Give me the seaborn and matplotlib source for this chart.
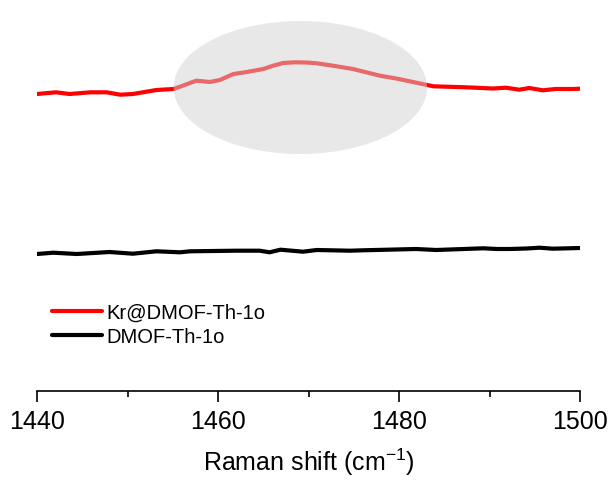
import numpy as np
import pandas as pd
import seaborn as sns
import matplotlib.pyplot as plt
from matplotlib.patches import Ellipse

# =========================================
# DATA (arbitrary intensity units)
# =========================================

kr_shift = [1440.0, 1442.1, 1443.6, 1445.9, 1447.7, 1449.2, 1450.6, 1453.2,
            1455.1, 1457.6, 1459.1, 1460.2, 1461.7, 1463.2, 1465.0, 1466.1,
            1467.2, 1468.5, 1469.8, 1470.9, 1472.7, 1474.9, 1477.9, 1479.7,
            1483.8, 1487.4, 1490.4, 1491.8, 1493.3, 1494.4, 1495.9, 1497.3,
            1499.2, 1500.0]
kr_intensity = [305.0, 306.7, 305.0, 306.7, 306.7, 304.3, 305.0, 309.0,
                310.0, 318.3, 317.0, 319.0, 325.0, 327.0, 330.0, 333.3,
                336.0, 336.7, 336.5, 335.7, 333.3, 330.0, 323.3, 320.5,
                312.7, 311.7, 310.5, 311.3, 309.3, 311.0, 308.7, 310.0,
                310.0, 310.3]

dmof_shift = [1440.0, 1441.8, 1444.4, 1448.0, 1450.6, 1453.2, 1455.8, 1456.9,
              1462.0, 1464.6, 1465.7, 1466.9, 1469.4, 1470.9, 1474.6, 1476.0,
              1481.9, 1484.1, 1489.3, 1490.8, 1492.2, 1494.1, 1495.5, 1497.0,
              1500.0]
dmof_intensity = [145.0, 146.3, 145.0, 147.0, 145.3, 147.7, 146.7, 147.7,
                  148.3, 148.3, 146.7, 149.3, 147.3, 149.0, 148.3, 148.7,
                  150.0, 149.0, 150.7, 150.0, 150.0, 150.5, 151.3, 150.3,
                  151.0]

series_labels = ["Kr@DMOF-Th-1o", "DMOF-Th-1o"]

df = pd.concat([
    pd.DataFrame({"shift": kr_shift, "intensity": kr_intensity,
                  "sample": series_labels[0]}),
    pd.DataFrame({"shift": dmof_shift, "intensity": dmof_intensity,
                  "sample": series_labels[1]}),
])

# =========================================
# PLOT
# =========================================

sns.set_style("white")
plt.rcParams['font.family'] = ['Liberation Sans', 'DejaVu Sans']
plt.rcParams['text.color'] = 'black'
plt.rcParams['axes.labelcolor'] = 'black'

fig = plt.figure(figsize=(6.11, 4.81), dpi=100)
ax = fig.add_axes([37 / 611, (481 - 392) / 481, 543 / 611, 392 / 481])

sns.lineplot(
    data=df, x="shift", y="intensity", hue="sample",
    palette={series_labels[0]: "#ff0000", series_labels[1]: "#000000"},
    linewidth=3, ax=ax, sort=False
)

# highlight of the Kr band
ax.add_patch(Ellipse((1469.1, 311.5), 28.0, 133.0,
                     facecolor="lightgray", edgecolor="none", alpha=0.5,
                     zorder=5))

ax.set_xlim(1440, 1500)
ax.set_ylim(8, 400)
ax.set_xticks([1440, 1460, 1480, 1500])
ax.set_xticks([1450, 1470, 1490], minor=True)
ax.set_yticks([])

for side in ["top", "right", "left"]:
    ax.spines[side].set_visible(False)
ax.spines["bottom"].set_linewidth(1.2)
ax.spines["bottom"].set_color("black")

ax.tick_params(axis="x", which="major", direction="out", length=8, width=1.2,
               labelsize=18, pad=5, bottom=True, colors="black")
ax.tick_params(axis="x", which="minor", direction="out", length=4, width=1.2,
               bottom=True, colors="black")

ax.set_xlabel("Raman shift (cm$^{\\mathregular{-1}}$)", fontsize=18,
              labelpad=9, color="black")
ax.set_ylabel("")

ax.legend(
    loc="upper left", bbox_to_anchor=(0.027, 0.224), frameon=False,
    fontsize=14.5, handlelength=2.5, handletextpad=0.2, labelspacing=0.23,
    borderpad=0, borderaxespad=0
)
for line in ax.get_legend().get_lines():
    line.set_linewidth(3)

fig.savefig("out.png", dpi=100)
